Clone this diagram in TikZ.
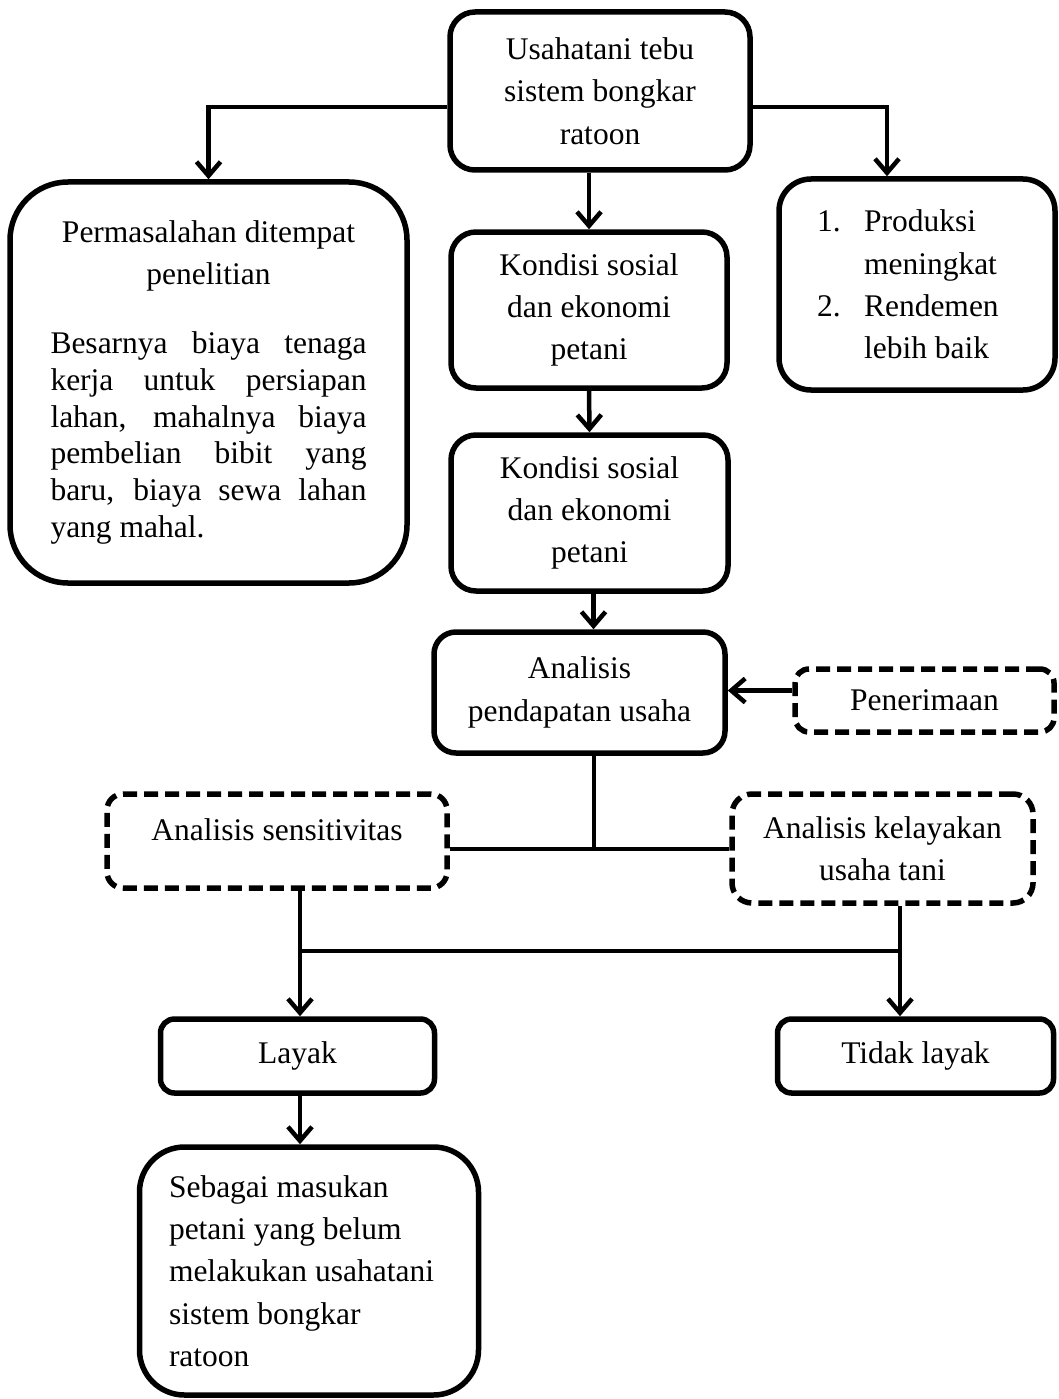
\documentclass[tikz,border=0pt]{standalone}
\usepackage{fontspec}
\setmainfont{Liberation Serif}
\usetikzlibrary{arrows.meta,calc}
\newcommand\fs{\fontsize{31.5}{42.3}\selectfont}
\begin{document}
\begin{tikzpicture}[x=1pt,y=-1pt,
  box/.style={draw, line width=5.5pt, rounded corners=25pt, inner sep=0pt, align=center, font=\fs},
  dbox/.style={box, dash pattern=on 14pt off 7pt},
  arr/.style={line width=4.5pt, -{Straight Barb[length=14pt,width=24pt]}},
  ln/.style={line width=4.5pt},
  lbl/.style={inner sep=0pt, font=\fs}]
\fill[white] (0,0) rectangle (1059,1399);
\useasboundingbox (0,0) rectangle (1059,1399);

% boxes
\node[box, minimum width=300pt, minimum height=158pt] (usa) at (600,91)
  {Usahatani tebu\\sistem bongkar\\ratoon};
\node[box, rounded corners=58pt, minimum width=397pt, minimum height=401pt] (perm) at (208.5,382.5)
  {\begin{minipage}{316pt}\centering\fs Permasalahan ditempat\\penelitian\par
   \vspace{32pt}\fontsize{31.5}{36.8}\selectfont
   \makebox[316pt][s]{Besarnya biaya tenaga}\\
   \makebox[316pt][s]{kerja untuk persiapan}\\
   \makebox[316pt][s]{lahan, mahalnya biaya}\\
   \makebox[316pt][s]{pembelian bibit yang}\\
   \makebox[316pt][s]{baru, biaya sewa lahan}\\
   \makebox[316pt][l]{yang mahal.}\par
   \end{minipage}};
\node[box, minimum width=276pt, minimum height=156pt] (k1) at (589,310)
  {Kondisi sosial\\dan ekonomi\\petani};
\node[box, rounded corners=32pt, minimum width=276pt, minimum height=211pt] (prod) at (917,284.5)
  {\begin{minipage}{200pt}\raggedright\fs
   \makebox[47pt][l]{1.}Produksi\\
   \hspace*{47pt}meningkat\\
   \makebox[47pt][l]{2.}Rendemen\\
   \hspace*{47pt}lebih baik
   \end{minipage}};
\node[box, minimum width=277pt, minimum height=156pt] (k2) at (589.5,513)
  {Kondisi sosial\\dan ekonomi\\petani};
\node[box, rounded corners=22pt, minimum width=291pt, minimum height=121pt] (pend) at (579.5,692.5)
  {Analisis\\pendapatan usaha};
\node[dbox, rounded corners=14pt, minimum width=259pt, minimum height=63pt] (pen) at (924.5,700.5)
  {Penerimaan};
\node[dbox, rounded corners=16pt, minimum width=340pt, minimum height=94pt] (sens) at (277,841) {};
\node[lbl] (senst) at (277,830) {Analisis sensitivitas};
\node[dbox, rounded corners=20pt, minimum width=301pt, minimum height=109pt] (kel) at (882.5,848.5)
  {Analisis kelayakan\\usaha tani};
\node[box, rounded corners=14pt, minimum width=274pt, minimum height=74pt] (layak) at (297.5,1056)
  {Layak};
\node[box, rounded corners=14pt, minimum width=276pt, minimum height=74pt] (tid) at (915.5,1056)
  {Tidak layak};
\node[box, rounded corners=45pt, minimum width=339pt, minimum height=248pt] (seb) at (309,1271)
  {\begin{minipage}{280pt}\raggedright\fs
   Sebagai masukan\\
   petani yang belum\\
   melakukan usahatani\\
   sistem bongkar\\
   ratoon
   \end{minipage}};

% connectors
\draw[arr] ([yshift=-16pt]usa.west) -| (perm.north);
\draw[arr] ([yshift=-16pt]usa.east) -| ([xshift=-30pt]prod.north);
\draw[arr] (k1.north |- usa.south) -- (k1.north);
\draw[arr] (k1.south) -- (k2.north);
\draw[arr] ([xshift=4pt]k2.south) -- ([xshift=4pt]k2.south |- pend.north);
\draw[arr] ([yshift=10pt]pen.west) -- ([yshift=10pt]pen.west -| pend.east);

\coordinate (j1) at (594,849);
\draw[ln] (sens.east |- j1) -- (kel.west |- j1);
\draw[ln] (pend.south -| j1) -- (j1);

\coordinate (j2) at (300,951);
\coordinate (j3) at (900,951);
\draw[ln] (j2) -- (j3);
\draw[arr] (sens.south -| j2) -- (layak.north -| j2);
\draw[arr] (kel.south -| j3) -- (tid.north -| j3);
\draw[arr] (layak.south -| j2) -- (seb.north -| j2);
\end{tikzpicture}
\end{document}
